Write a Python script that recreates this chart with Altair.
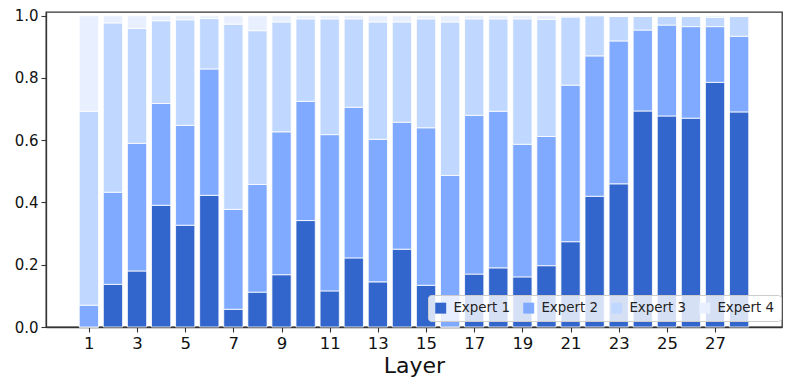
import altair as alt
import pandas as pd

layers = list(range(1, 29))
experts = ["Expert 1", "Expert 2", "Expert 3", "Expert 4"]
colors = ["#3366CC", "#80AAFF", "#C0D8FF", "#E8F0FF"]

expert1 = [0.000, 0.137, 0.180, 0.391, 0.327, 0.423, 0.057, 0.112, 0.168, 0.342,
           0.116, 0.222, 0.145, 0.250, 0.134, 0.000, 0.170, 0.190, 0.161, 0.197,
           0.274, 0.420, 0.460, 0.694, 0.678, 0.671, 0.786, 0.691]
expert2 = [0.070, 0.296, 0.410, 0.327, 0.321, 0.406, 0.321, 0.346, 0.459, 0.383,
           0.502, 0.484, 0.458, 0.408, 0.506, 0.487, 0.510, 0.503, 0.426, 0.415,
           0.503, 0.451, 0.459, 0.260, 0.292, 0.294, 0.179, 0.243]
expert3 = [0.623, 0.544, 0.369, 0.266, 0.339, 0.162, 0.595, 0.494, 0.353, 0.265,
           0.372, 0.284, 0.377, 0.322, 0.350, 0.493, 0.310, 0.297, 0.403, 0.376,
           0.219, 0.129, 0.079, 0.044, 0.028, 0.033, 0.030, 0.064]
expert4 = [0.307, 0.023, 0.041, 0.016, 0.013, 0.009, 0.027, 0.048, 0.020, 0.010,
           0.010, 0.010, 0.020, 0.020, 0.010, 0.020, 0.010, 0.010, 0.010, 0.012,
           0.004, 0.002, 0.002, 0.002, 0.002, 0.002, 0.005, 0.002]
x_ticks = list(range(1, 28, 2))
y_ticks = [0.0, 0.2, 0.4, 0.6, 0.8, 1.0]

rows = []
for k, (name, vals) in enumerate(zip(experts, [expert1, expert2, expert3, expert4])):
    for layer, v in zip(layers, vals):
        rows.append({"layer": layer, "expert": name, "idx": k, "share": v})
df = pd.DataFrame(rows)

font = "DejaVu Sans"

chart = (
    alt.Chart(df)
    .transform_stack(stack="share", as_=["y0", "y1"], groupby=["layer"],
                     sort=[alt.SortField("idx", order="ascending")])
    .transform_calculate(lo="datum.layer - 0.4", hi="datum.layer + 0.4")
    .mark_bar(stroke="white", strokeWidth=0.8)
    .encode(
        x=alt.X("lo:Q", title="Layer",
                scale=alt.Scale(domain=[-0.78, 29.78], nice=False, zero=False),
                axis=alt.Axis(values=x_ticks, format="d", grid=False, labelFlush=False,
                              labelFontSize=16.5)),
        x2="hi:Q",
        y=alt.Y("y0:Q", title=None,
                scale=alt.Scale(domain=[0, 1.012], nice=False),
                axis=alt.Axis(values=y_ticks, format=".1f", grid=False,
                              labelFontSize=15)),
        y2="y1:Q",
        color=alt.Color("expert:N",
                        scale=alt.Scale(domain=experts, range=colors),
                        legend=alt.Legend(
                            title=None, orient="none", legendX=382, legendY=283,
                            direction="horizontal", columns=4,
                            symbolType="square", symbolSize=120,
                            symbolStrokeWidth=0,
                            labelFontSize=13.4, labelFont=font, labelColor="#222",
                            labelOffset=6, columnPadding=11, padding=6,
                            fillColor="rgba(255,255,255,0.8)",
                            strokeColor="#cccccc", cornerRadius=3)),
    )
    .properties(width=736, height=315,
                autosize=alt.AutoSizeParams(type="none"),
                padding={"left": 38, "top": 4, "right": 3, "bottom": 60})
    .configure_view(stroke="#333333", strokeWidth=1.3)
    .configure_axis(
        domainColor="#333333", domainWidth=1.3, tickColor="#333333", tickSize=5,
        tickWidth=1.1, labelFont=font, labelColor="#111",
        titleFont=font, titleFontSize=22, titleFontWeight="normal", titleColor="#111",
        labelPadding=3,
    )
)

chart.save("out.html", embed_options={"renderer": "svg", "actions": False})
